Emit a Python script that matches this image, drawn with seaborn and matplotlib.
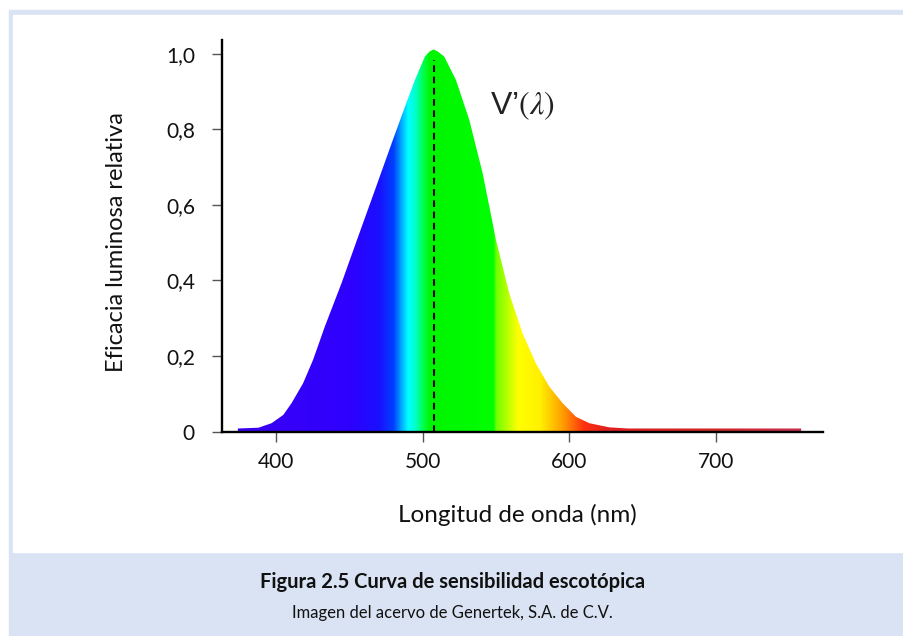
import numpy as np
import pandas as pd
import matplotlib
matplotlib.use("Agg")
import matplotlib.pyplot as plt
from matplotlib.colors import LinearSegmentedColormap
from matplotlib.patches import Rectangle
import seaborn as sns

# ---------------- data ----------------
wavelength = [374, 388, 397, 405, 410.6, 418.5, 425.3, 433.3, 444.7, 456,
              467.5, 478.8, 487.9, 494.7, 501.5, 504.5, 507.5, 510.5, 514.7,
              522.7, 531.8, 540.9, 550, 559, 568.1, 577.2, 586.3, 595.4,
              604.5, 613.6, 627.2, 640, 700, 758]
efficacy = [0.008, 0.010, 0.022, 0.044, 0.075, 0.128, 0.190, 0.278, 0.393, 0.516,
            0.640, 0.763, 0.860, 0.931, 0.993, 1.006, 1.012, 1.006, 0.993,
            0.931, 0.825, 0.684, 0.507, 0.366, 0.260, 0.180, 0.119, 0.075,
            0.039, 0.022, 0.011, 0.008, 0.008, 0.008]
peak_wl = 508
peak_top = 0.985
x_ticks = [400, 500, 600, 700]
y_ticks = [0, 0.2, 0.4, 0.6, 0.8, 1.0]
y_ticklabels = ["0", "0,2", "0,4", "0,6", "0,8", "1,0"]
x_label = "Longitud de onda (nm)"
y_label = "Eficacia luminosa relativa"
curve_label = r"V’$(\lambda)$"
caption_title = "Figura 2.5 Curva de sensibilidad escotópica"
caption_sub = "Imagen del acervo de Genertek, S.A. de C.V."

# spectrum colour stops (wavelength, colour)
spec_stops = [(370, "#3c00f0"), (450, "#2e00ff"), (470, "#1a10ff"),
              (480, "#0040ff"), (486, "#00b8ff"), (490, "#00ffff"),
              (495, "#00ffc8"), (500, "#00ff50"), (505, "#00f500"),
              (548, "#00ff00"), (550, "#70ff00"), (565, "#ffff00"),
              (580, "#fff000"), (595, "#ffa000"), (610, "#ff3010"),
              (625, "#e02020"), (700, "#d02828"), (765, "#c83055")]

# ---------------- style ----------------
sns.set_theme(style="ticks")
plt.rcParams["font.family"] = ["Lato", "DejaVu Sans"]
plt.rcParams["mathtext.fontset"] = "stix"

fig = plt.figure(figsize=(9.04, 6.36), dpi=100)
W, H = 904, 636

# frame / caption background
fig.patches.append(Rectangle((9 / W, 0), (W - 9) / W, (H - 10) / H,
                             transform=fig.transFigure, color="#dae3f3", zorder=-10))
fig.patches.append(Rectangle((13 / W, (H - 552) / H), (W - 13) / W, (552 - 15) / H,
                             transform=fig.transFigure, color="white", zorder=-9))

ax = fig.add_axes([222 / W, (H - 431.5) / H, (823 - 222) / W, (431.5 - 40) / H])
ax.patch.set_alpha(0)

df = pd.DataFrame({"wl": wavelength, "v": efficacy})

# area shape and spectrum gradient clipped to it
poly = ax.fill_between(df["wl"], 0, df["v"], facecolor="none", edgecolor="none", linewidth=0)
lo, hi = spec_stops[0][0], spec_stops[-1][0]
cmap = LinearSegmentedColormap.from_list(
    "spec", [((w - lo) / (hi - lo), c) for w, c in spec_stops], N=1024)
grad = np.linspace(lo, hi, 1200)[None, :]
im = ax.imshow(grad, extent=[lo, hi, 0, 1.05], origin="lower", aspect="auto",
               cmap=cmap, vmin=lo, vmax=hi, interpolation="bilinear", zorder=1)
im.set_clip_path(poly.get_paths()[0], transform=ax.transData)

# peak marker
sns.lineplot(x=[peak_wl, peak_wl], y=[0, peak_top], ax=ax, color="black",
             linewidth=1.5, linestyle=(0, (3.2, 2.2)), estimator=None, sort=False, zorder=3)

ax.text(568, 0.862, curve_label, fontsize=23, ha="center", va="center",
        color="#222222", family=["Liberation Sans", "DejaVu Sans"])

ax.set_xlim(363.2, 772.9)
ax.set_ylim(0, 1.037)
ax.set_xticks(x_ticks)
ax.set_xticklabels([str(t) for t in x_ticks])
ax.set_yticks(y_ticks)
ax.set_yticklabels(y_ticklabels)

sns.despine(ax=ax)
for s in ("left", "bottom"):
    ax.spines[s].set_color("black")
    ax.spines[s].set_linewidth(1.7)
ax.tick_params(axis="both", direction="out", length=7.5, width=1.0,
               color="#555555", labelsize=15, labelcolor="#111111")
ax.tick_params(axis="x", pad=7)
ax.tick_params(axis="y", pad=12)

ax.set_xlabel(x_label, fontsize=17.5, color="#111111")
ax.xaxis.set_label_coords((517 - 222) / (823 - 222), -(515 - 431.5) / (431.5 - 40))
ax.xaxis.label.set_va("center")
ax.set_ylabel(y_label, fontsize=17, color="#111111")
ax.yaxis.set_label_coords(-(222 - 117) / (823 - 222), (431.5 - 242) / (431.5 - 40))
ax.yaxis.label.set_va("center")

fig.text(453 / W, 1 - 582 / H, caption_title, ha="center", va="center",
         fontsize=14.5, fontweight="bold", color="#111111")
fig.text(452 / W, 1 - 613 / H, caption_sub, ha="center", va="center",
         fontsize=12, color="#111111")

fig.savefig("out.png", dpi=100)
